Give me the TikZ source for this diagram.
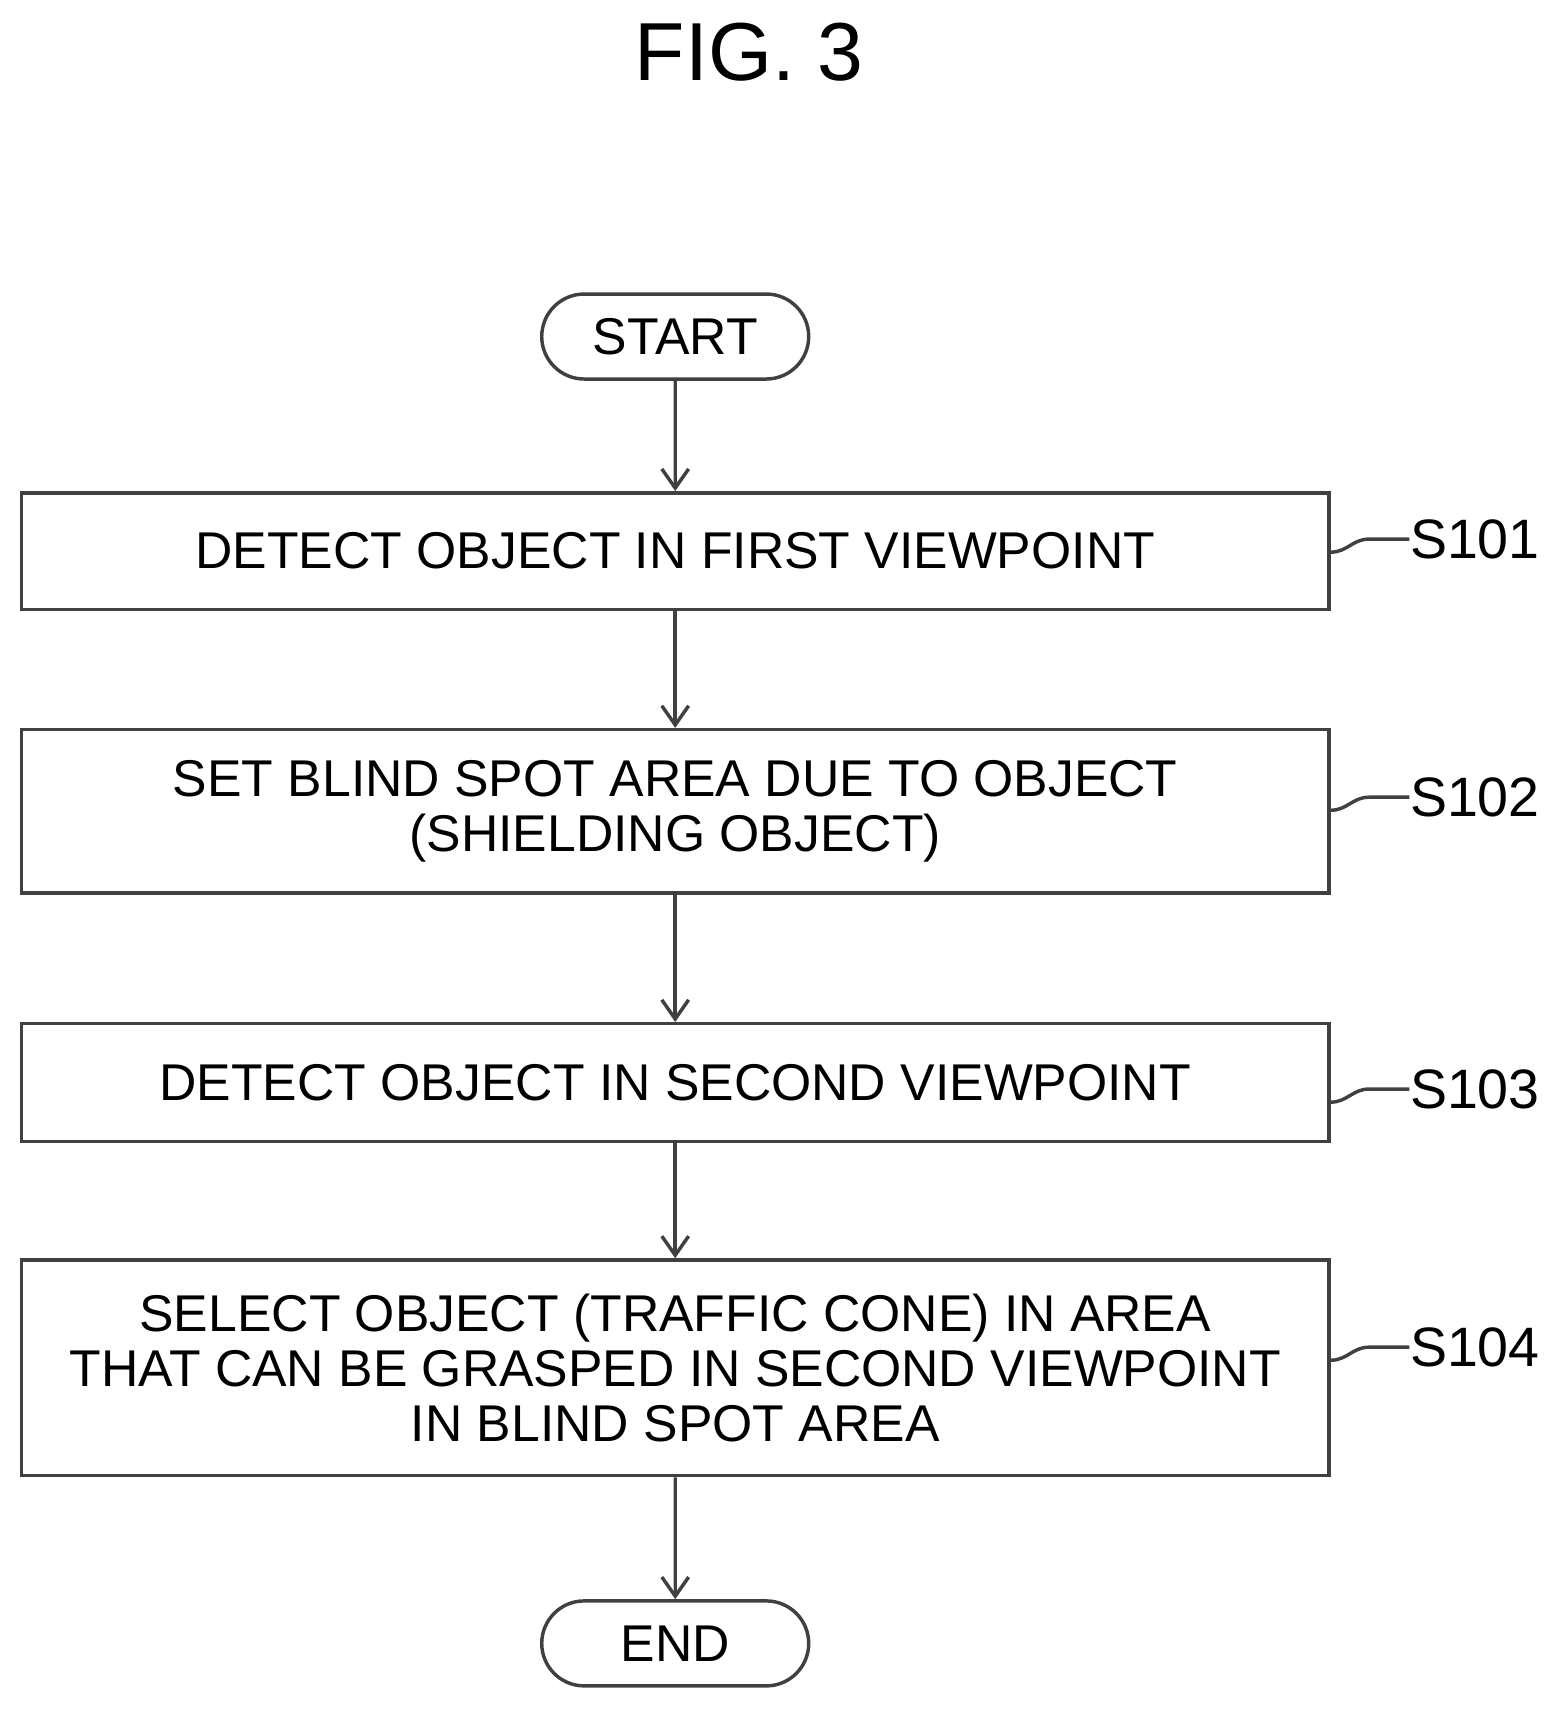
\documentclass[tikz,border=0pt]{standalone}
\usepackage{fontspec}
\setmainfont{Liberation Sans}
\usetikzlibrary{shapes.misc,arrows.meta}
\begin{document}
\begin{tikzpicture}[x=0.01cm,y=-0.01cm,
  ln/.style={draw=black!75,line width=0.9pt},
  box/.style={ln,minimum width=12cm,align=center,font=\fontsize{13.5}{14.3}\selectfont,inner sep=0pt},
  term/.style={ln,rounded rectangle,minimum width=2.45cm,minimum height=0.78cm,font=\fontsize{13.5}{16}\selectfont,inner sep=0pt},
  arr/.style={ln,-{Straight Barb[length=5pt,width=7pt]}},
  lab/.style={font=\fontsize{14.5}{18}\selectfont}]
\useasboundingbox (0,0) rectangle (1434,1572);
\node[font=\fontsize{21.5}{26}\selectfont] (t) at (688,48) {FIG. 3};
\node[term] (s) at (620,309) {START};
\node[box,minimum height=1.07cm] (b1) at (620,506) {DETECT OBJECT IN FIRST VIEWPOINT};
\node[box,minimum height=1.5cm] (b2) at (620,745) {SET BLIND SPOT AREA DUE TO OBJECT\\(SHIELDING OBJECT)};
\node[box,minimum height=1.08cm] (b3) at (620,994) {DETECT OBJECT IN SECOND VIEWPOINT};
\node[box,minimum height=1.98cm] (b4) at (620,1256) {SELECT OBJECT (TRAFFIC CONE) IN AREA\\THAT CAN BE GRASPED IN SECOND VIEWPOINT\\IN BLIND SPOT AREA};
\node[term] (e) at (620,1509) {END};
\draw[arr] (s) -- (b1);
\draw[arr] (b1) -- (b2);
\draw[arr] (b2) -- (b3);
\draw[arr] (b3) -- (b4);
\draw[arr] (b4) -- (e);
\foreach \b/\y/\t in {b1/495/S101,b2/732/S102,b3/1000/S103,b4/1237/S104}{
  \node[lab,anchor=west,inner sep=0pt] (l\b) at (1294,\y) {\t};
  \coordinate (q\b) at (1222,\y+12);
  \draw[ln] (q\b) .. controls +(15,0) and +(-15,0) .. ++(35,-12) .. controls +(15,0) and +(-12,0) .. (l\b.west);
}
\end{tikzpicture}
\end{document}
